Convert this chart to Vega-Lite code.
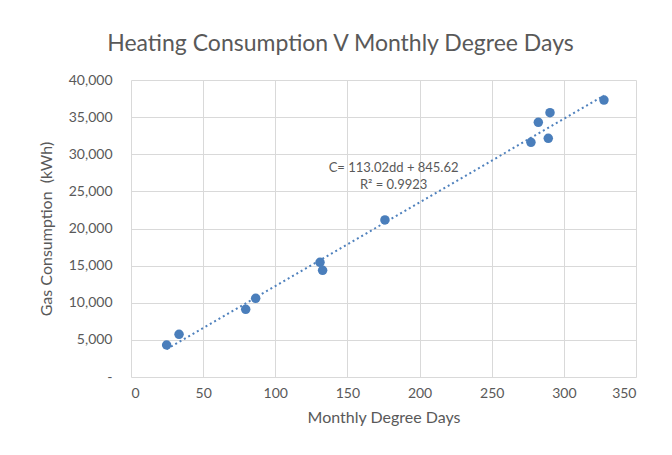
{
  "$schema": "https://vega.github.io/schema/vega-lite/v6.json",
  "width": 505,
  "height": 297,
  "autosize": "none",
  "padding": {"left": 131, "top": 80, "right": 36, "bottom": 78},
  "background": "white",
  "title": {
    "text": "Heating Consumption V Monthly Degree Days",
    "font": "Lato",
    "fontSize": 23,
    "fontWeight": "normal",
    "color": "#595959",
    "anchor": "middle",
    "dx": -43,
    "offset": 17
  },
  "config": {
    "view": {"stroke": null},
    "axis": {
      "labelFont": "Lato",
      "labelFontSize": 14,
      "labelColor": "#595959",
      "titleFont": "Lato",
      "titleFontSize": 16,
      "titleFontWeight": "normal",
      "titleColor": "#595959",
      "gridColor": "#d9d9d9",
      "gridWidth": 1,
      "domain": false,
      "ticks": false,
      "labelOverlap": false
    }
  },
  "data": {
    "values": [
      {"dd": 24.7, "gas": 4310},
      {"dd": 33.3, "gas": 5750},
      {"dd": 79.5, "gas": 9120},
      {"dd": 86.4, "gas": 10600},
      {"dd": 131.0, "gas": 15450},
      {"dd": 132.8, "gas": 14370},
      {"dd": 176.0, "gas": 21150},
      {"dd": 277.2, "gas": 31610},
      {"dd": 282.3, "gas": 34300},
      {"dd": 289.2, "gas": 32150},
      {"dd": 290.4, "gas": 35600},
      {"dd": 327.8, "gas": 37300}
    ]
  },
  "layer": [
    {
      "transform": [{"regression": "gas", "on": "dd"}],
      "mark": {"type": "line", "color": "#4f81bd", "strokeWidth": 2, "strokeDash": [2, 3]},
      "encoding": {
        "x": {
          "field": "dd",
          "type": "quantitative",
          "scale": {"domain": [0, 350], "nice": false},
          "axis": {"values": [0, 50, 100, 150, 200, 250, 300, 350], "labelPadding": 9, "title": "Monthly Degree Days", "titlePadding": 9}
        },
        "y": {
          "field": "gas",
          "type": "quantitative",
          "scale": {"domain": [0, 40000], "nice": false},
          "axis": {
            "values": [0, 5000, 10000, 15000, 20000, 25000, 30000, 35000, 40000],
            "labelExpr": "datum.value == 0 ? '-' : format(datum.value, ',')",
            "labelPadding": 19,
            "title": "Gas Consumption\u00a0\u00a0(kWh)",
            "titlePadding": 14
          }
        }
      }
    },
    {
      "mark": {"type": "circle", "size": 90, "color": "#4a7ebb", "opacity": 1},
      "encoding": {
        "x": {
          "field": "dd",
          "type": "quantitative",
          "axis": {"values": [0, 50, 100, 150, 200, 250, 300, 350], "labelPadding": 9, "title": "Monthly Degree Days", "titlePadding": 9}
        },
        "y": {
          "field": "gas",
          "type": "quantitative",
          "axis": {
            "values": [0, 5000, 10000, 15000, 20000, 25000, 30000, 35000, 40000],
            "labelExpr": "datum.value == 0 ? '-' : format(datum.value, ',')",
            "labelPadding": 19,
            "title": "Gas Consumption\u00a0\u00a0(kWh)",
            "titlePadding": 14
          }
        }
      }
    },
    {
      "data": {"values": [{"label": "C= 113.02dd + 845.62\nR² = 0.9923"}]},
      "mark": {"type": "text", "font": "Lato", "fontSize": 13, "color": "#595959", "align": "center", "lineBreak": "\n", "lineHeight": 17},
      "encoding": {
        "x": {
          "datum": 182,
          "type": "quantitative",
          "axis": {"values": [0, 50, 100, 150, 200, 250, 300, 350], "labelPadding": 9, "title": "Monthly Degree Days", "titlePadding": 9}
        },
        "y": {
          "datum": 28100,
          "type": "quantitative",
          "axis": {
            "values": [0, 5000, 10000, 15000, 20000, 25000, 30000, 35000, 40000],
            "labelExpr": "datum.value == 0 ? '-' : format(datum.value, ',')",
            "labelPadding": 19,
            "title": "Gas Consumption\u00a0\u00a0(kWh)",
            "titlePadding": 14
          }
        },
        "text": {"field": "label"}
      }
    }
  ]
}
